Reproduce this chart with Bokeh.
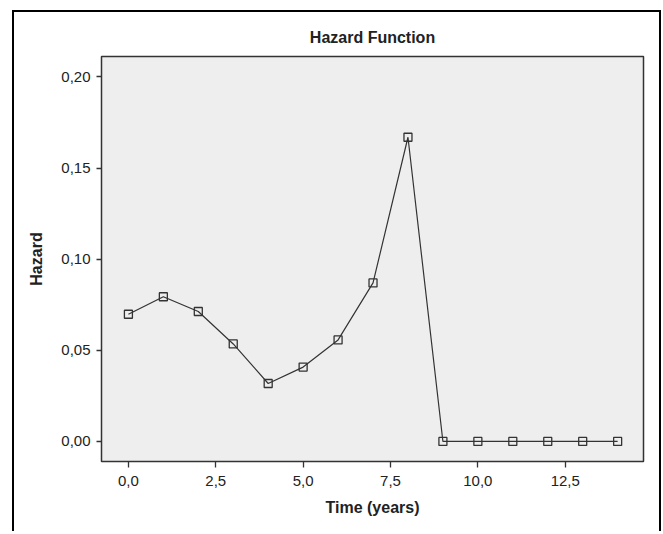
from bokeh.plotting import figure
from bokeh.models import FixedTicker, CustomJSTickFormatter, Range1d
from bokeh.embed import file_html
from bokeh.resources import INLINE

# Data
time_years = [0, 1, 2, 3, 4, 5, 6, 7, 8, 9, 10, 11, 12, 13, 14]
hazard = [0.0698, 0.0794, 0.0713, 0.0535, 0.0318, 0.0408, 0.0557, 0.0870, 0.1669,
          0.0, 0.0, 0.0, 0.0, 0.0, 0.0]
x_ticks = [0, 2.5, 5, 7.5, 10, 12.5]
y_ticks = [0, 0.05, 0.10, 0.15, 0.20]

FONT = "Liberation Sans"
TXT = "#222222"

p = figure(frame_width=542, frame_height=405,
           x_range=Range1d(-0.77, 14.74), y_range=Range1d(-0.011, 0.2112),
           output_backend="svg", toolbar_location=None,
           min_border_left=87, min_border_right=16, min_border_top=44, min_border_bottom=70)

p.styles = {"border-left": "2px solid black", "border-top": "2px solid black",
            "border-right": "2px solid black", "margin-left": "12px", "margin-top": "10px"}

p.title.text = "Hazard Function"
p.title.align = "center"
p.title.vertical_align = "middle"
p.title.text_font = FONT
p.title.text_font_size = "16px"
p.title.text_font_style = "bold"
p.title.text_color = TXT
p.title.standoff = 19

p.background_fill_color = "#EEEEEE"
p.border_fill_color = "white"
p.outline_line_color = "#333333"
p.outline_line_width = 1.5
p.xgrid.visible = False
p.ygrid.visible = False

p.xaxis.ticker = FixedTicker(ticks=x_ticks)
p.yaxis.ticker = FixedTicker(ticks=y_ticks)
p.xaxis.formatter = CustomJSTickFormatter(code="return tick.toFixed(1).replace('.', ',');")
p.yaxis.formatter = CustomJSTickFormatter(code="return tick.toFixed(2).replace('.', ',');")

for ax in (p.xaxis[0], p.yaxis[0]):
    ax.axis_line_color = None
    ax.major_tick_in = 0
    ax.minor_tick_line_color = None
    ax.major_tick_line_color = "#333333"
    ax.major_tick_line_width = 1.3
    ax.major_label_text_font = FONT
    ax.major_label_text_font_size = "15px"
    ax.major_label_text_color = TXT
    ax.axis_label_text_font = FONT
    ax.axis_label_text_font_size = "16px"
    ax.axis_label_text_font_style = "bold"
    ax.axis_label_text_color = TXT

p.xaxis.axis_label = "Time (years)"
p.xaxis.major_tick_out = 6
p.xaxis.major_label_standoff = 8
p.xaxis.axis_label_standoff = 10

p.yaxis.axis_label = "Hazard"
p.yaxis.major_tick_out = 5
p.yaxis.major_label_standoff = 6
p.yaxis.axis_label_standoff = 13

p.line(time_years, hazard, line_color="#333333", line_width=1.2)
p.scatter(time_years, hazard, marker="square", size=8, fill_alpha=0,
          line_color="#333333", line_width=1.3)

open("out.html", "w").write(file_html(p, INLINE))
